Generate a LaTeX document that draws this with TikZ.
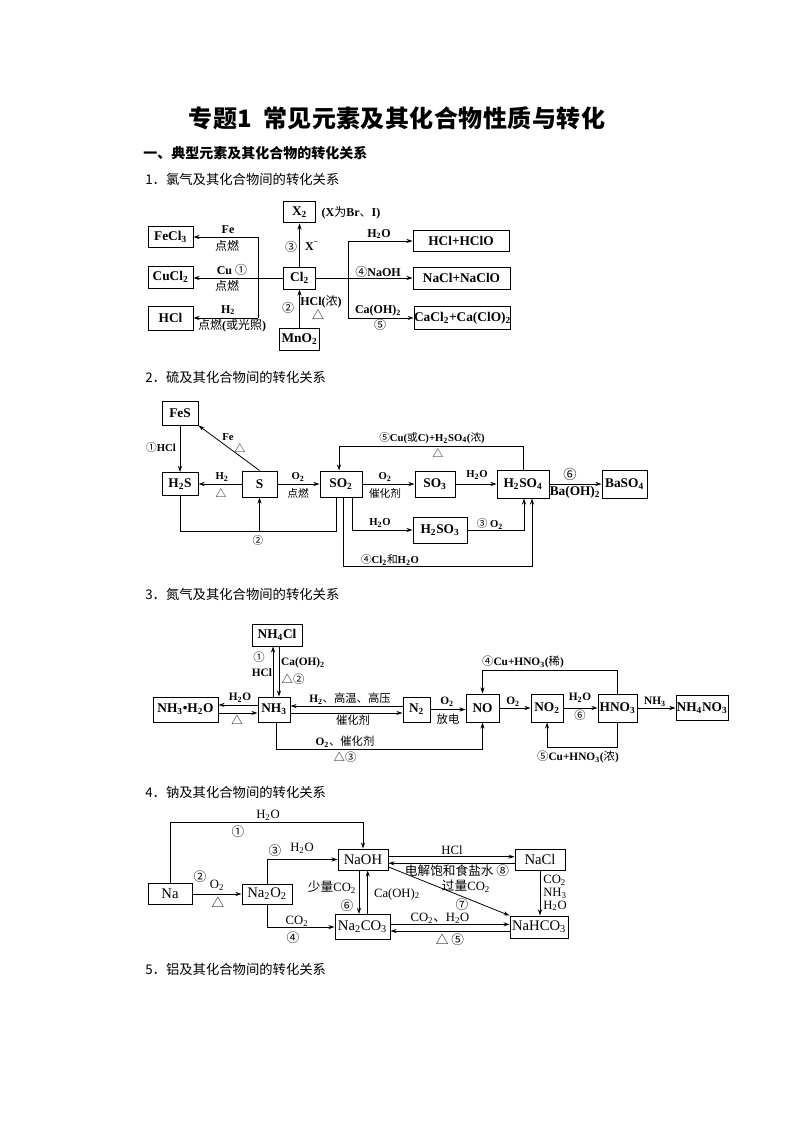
\documentclass[tikz,border=0pt]{standalone}
\usepackage{fontspec}
\setmainfont{Liberation Serif}
\newfontfamily\cjk{Noto Sans CJK SC}
\usetikzlibrary{arrows.meta}
\newcommand{\zh}[1]{{\cjk\mdseries #1}}
\newcommand{\dn}[1]{\textsubscript{#1}}
\newcommand{\mkbox}[7]{\node[#1, minimum width=#5*0.75pt, minimum height=#6*0.75pt] (#2) at (#3,#4) {#7};}
\tikzset{
  boxb/.style={draw, line width=0.75pt, inner sep=0pt, font=\bfseries\fontsize{10}{12}\selectfont},
  boxr/.style={draw, line width=0.75pt, inner sep=0pt, font=\fontsize{11}{13}\selectfont},
  arr/.style={-{Stealth[length=4.5pt,width=3pt]}, line width=0.6pt},
  ln/.style={line width=0.6pt},
  la/.style={inner sep=0pt, font=\bfseries\fontsize{9}{10}\selectfont},
  lb/.style={inner sep=0pt, font=\bfseries\fontsize{8}{9}\selectfont},
  lc/.style={inner sep=0pt, font=\bfseries\fontsize{8.5}{9.5}\selectfont},
  ld/.style={inner sep=0pt, font=\fontsize{9.5}{10}\selectfont},
  hd/.style={anchor=west, inner sep=0pt, font=\cjk\fontsize{10}{12}\selectfont},
}
\begin{document}
\begin{tikzpicture}[x=0.75pt,y=-0.75pt]
\fill[white] (0,0) rectangle (794,1123);
\useasboundingbox (0,0) rectangle (794,1123);

% ---------- titles ----------
\node[inner sep=0pt, font=\cjk\bfseries\fontsize{18}{20}\selectfont\addfontfeatures{LetterSpace=2}] (title) at (397,118) {专题1\hspace{0.45em}常见元素及其化合物性质与转化};
\node[hd, font=\cjk\bfseries\fontsize{10.5}{12}\selectfont] (h0) at (143,153) {一、典型元素及其化合物的转化关系};
\node[hd] (h1) at (145,179) {1．氯气及其化合物间的转化关系};
\node[hd] (h2) at (145,377) {2．硫及其化合物间的转化关系};
\node[hd] (h3) at (145,594) {3．氮气及其化合物间的转化关系};
\node[hd] (h4) at (145,792) {4．钠及其化合物间的转化关系};
\node[hd] (h5) at (145,969) {5．铝及其化合物间的转化关系};

% ---------- section 1 ----------
\mkbox{boxb}{fecl}{170.5}{237}{45}{21}{FeCl\dn{3}}
\mkbox{boxb}{cucl}{170.5}{277}{45}{22}{CuCl\dn{2}}
\mkbox{boxb}{hcl}{170.5}{318}{45}{24}{HCl}
\mkbox{boxb}{xx}{299.5}{212.5}{32}{21}{X\dn{2}}
\mkbox{boxb}{cl}{299.5}{278}{32}{22}{Cl\dn{2}}
\mkbox{boxb}{mno}{299.5}{339}{40}{22}{MnO\dn{2}}
\mkbox{boxb}{hclo}{461}{241}{96}{21}{HCl+HClO}
\mkbox{boxb}{naclo}{461.5}{278}{97}{22}{NaCl+NaClO}
\mkbox{boxb}{cacl}{462.5}{318}{96}{23}{CaCl\dn{2}+Ca(ClO)\dn{2}}

\coordinate (j1) at (258,237);
\coordinate (j3) at (258,318);
\draw[ln] (j1) -- (j3);
\draw[arr] (j1) -- (j1 -| fecl.east);
\draw[arr] (cl.west) -- (cl.west -| cucl.east);
\draw[arr] (j3) -- (j3 -| hcl.east);
\draw[arr] (cl.north) -- (xx.south);
\draw[arr] (mno.north) -- (cl.south);
\coordinate (k1) at (348,241);
\coordinate (k3) at (348,318);
\draw[ln] (k1) -- (k3);
\draw[arr] (cl.east) -- (cl.east -| naclo.west);
\draw[arr] (k1) -- (hclo.west);
\draw[arr] (k3) -- (cacl.west);

\node[la] (t1) at (228,230) {Fe};
\node[la] (t2) at (227,246) {\zh{点燃}};
\node[la] (t3) at (232,270) {Cu \zh{①}};
\node[la] (t4) at (227,286) {\zh{点燃}};
\node[la] (t5) at (228,310) {H\dn{2}};
\node[la] (t6) at (232,326) {\zh{点燃}(\zh{或光照})};
\node[la] (t7) at (291,247) {\zh{③}};
\node[la] (t8) at (312,246) {X\textsuperscript{−}};
\node[la] (t9) at (351,213) {(X\zh{为}Br\zh{、}I)};
\node[la] (t10) at (288,308) {\zh{②}};
\node[la] (t11) at (321,302) {HCl(\zh{浓})};
\node[la] (t12) at (318,315) {\zh{△}};
\node[la] (t13) at (379,234) {H\dn{2}O};
\node[la] (t14) at (378,272) {\zh{④}NaOH};
\node[la] (t15) at (378,311) {Ca(OH)\dn{2}};
\node[la] (t16) at (380,325) {\zh{⑤}};

% ---------- section 2 ----------
\mkbox{boxb}{fes}{180}{413}{36}{24}{FeS}
\mkbox{boxb}{hhs}{180}{484}{36}{23}{H\dn{2}S}
\mkbox{boxb}{ss}{259.5}{484}{35}{26}{S}
\mkbox{boxb}{soo}{341}{484}{42}{26}{SO\dn{2}}
\mkbox{boxb}{sooo}{435}{484}{40}{26}{SO\dn{3}}
\mkbox{boxb}{hso4}{523}{484}{52}{28}{H\dn{2}SO\dn{4}}
\mkbox{boxb}{baso}{624.5}{484}{45}{28}{BaSO\dn{4}}
\mkbox{boxb}{hso3}{440}{530}{54}{26}{H\dn{2}SO\dn{3}}

\draw[arr] (fes.south) -- (hhs.north);
\draw[arr] (ss.north) -- (fes.south east);
\draw[arr] (ss.west) -- (hhs.east);
\draw[arr] (ss.east) -- (soo.west);
\draw[arr] (soo.east) -- (sooo.west);
\draw[arr] (sooo.east) -- (hso4.west);
\draw[arr] (hso4.east) -- (baso.west);
\coordinate (p2) at (336,531);
\draw[ln] (hhs.south) |- (p2) -- (p2 |- soo.south);
\draw[arr] (ss.south |- p2) -- (ss.south);
\draw[arr] ([xshift=8.25pt]soo.south) |- (hso3.west);
\coordinate (p4) at (532,566);
\draw[arr] ([xshift=1.5pt]soo.south) |- (p4) -- (p4 |- hso4.south);
\draw[arr] (hso3.east) -| ([xshift=0.75pt]hso4.south);
\coordinate (p5) at (339,446);
\draw[arr] (hso4.north) |- (p5) -- (p5 |- soo.north);

\node[lb] (s1) at (161,447) {\zh{①}HCl};
\node[lb] (s2) at (228,437) {Fe};
\node[lb] (s3) at (240,448) {\zh{△}};
\node[lb] (s4) at (222,477) {H\dn{2}};
\node[lb] (s5) at (221,493) {\zh{△}};
\node[lb] (s6) at (298,477) {O\dn{2}};
\node[lb] (s7) at (298,493) {\zh{点燃}};
\node[lb] (s8) at (258,540) {\zh{②}};
\node[lb] (s9) at (385,477) {O\dn{2}};
\node[lb] (s10) at (385,493) {\zh{催化剂}};
\node[lb] (s11) at (477,475) {H\dn{2}O};
\node[la, font=\bfseries\fontsize{10}{11}\selectfont] (s12) at (570,474) {\zh{⑥}};
\node[la, font=\bfseries\fontsize{10}{11}\selectfont] (s13) at (575,492) {Ba(OH)\dn{2}};
\node[lb] (s14) at (380,523) {H\dn{2}O};
\node[lb] (s15) at (490,524) {\zh{③} O\dn{2}};
\node[lb] (s16) at (390,560) {\zh{④}Cl\dn{2}\zh{和}H\dn{2}O};
\node[lb] (s17) at (432,438) {\zh{⑤}Cu(\zh{或}C)+H\dn{2}SO\dn{4}(\zh{浓})};
\node[lb] (s18) at (438,453) {\zh{△}};

% ---------- section 3 ----------
\mkbox{boxb}{nhcl}{277}{635}{50}{22}{NH\dn{4}Cl}
\mkbox{boxb}{nh}{274}{709.5}{32}{25}{NH\dn{3}}
\mkbox{boxb}{nhw}{185.5}{709.5}{65}{25}{NH\dn{3}•H\dn{2}O}
\mkbox{boxb}{nn}{416.5}{709.5}{27}{25}{N\dn{2}}
\mkbox{boxb}{no}{482.5}{708}{33}{28}{NO}
\mkbox{boxb}{noo}{547}{708}{32}{28}{NO\dn{2}}
\mkbox{boxb}{hno}{617.5}{708}{39}{28}{HNO\dn{3}}
\mkbox{boxb}{nhno}{702}{708}{52}{25}{NH\dn{4}NO\dn{3}}

\coordinate (u1) at ([xshift=-0.75pt]nh.north);
\draw[arr] (u1) -- (u1 |- nhcl.south);
\coordinate (u2) at ([xshift=3.75pt]nh.north);
\draw[arr] (u2 |- nhcl.south) -- (u2);
\coordinate (v1) at ([yshift=3.4pt]nh.west);
\draw[arr] (v1) -- (v1 -| nhw.east);
\coordinate (v2) at ([yshift=-2.6pt]nhw.east);
\draw[arr] (v2) -- (v2 -| nh.west);
\coordinate (v3) at ([yshift=2.6pt]nn.west);
\draw[arr] (v3) -- (v3 -| nh.east);
\coordinate (v4) at ([yshift=-2.6pt]nh.east);
\draw[arr] (v4) -- (v4 -| nn.west);
\draw[arr] (nn.east) -- (nn.east -| no.west);
\coordinate (q6) at (482.5,749);
\draw[arr] ([xshift=1.5pt]nh.south) |- (q6) -- (no.south);
\draw[arr] (no.east) -- (noo.west);
\draw[arr] (noo.east) -- (hno.west);
\draw[arr] (hno.east) -- (hno.east -| nhno.west);
\coordinate (q7) at (482.5,670);
\draw[arr] (hno.north) |- (q7) -- (no.north);
\coordinate (q8) at (547,747);
\draw[arr] (hno.south) |- (q8) -- (noo.south);

\node[lc] (n1) at (259,657) {\zh{①}};
\node[lc] (n2) at (262,673) {HCl};
\node[lc] (n3) at (303,663) {Ca(OH)\dn{2}};
\node[lc] (n4) at (293,679) {\zh{△②}};
\node[lc] (n5) at (240,698) {H\dn{2}O};
\node[lc] (n6) at (237,720) {\zh{△}};
\node[lc] (n7) at (350,699) {H\dn{2}\zh{、高温、高压}};
\node[lc] (n8) at (353,720) {\zh{催化剂}};
\node[lc] (n9) at (447,702) {O\dn{2}};
\node[lc] (n10) at (448,719) {\zh{放电}};
\node[lc] (n11) at (345,742) {O\dn{2}\zh{、催化剂}};
\node[lc] (n12) at (345,757) {\zh{△③}};
\node[lc] (n13) at (513,702) {O\dn{2}};
\node[lc] (n14) at (580,698) {H\dn{2}O};
\node[lc] (n15) at (580,715) {\zh{⑥}};
\node[lc] (n16) at (655,702) {NH\dn{3}};
\node[lc] (n17) at (523,662) {\zh{④}Cu+HNO\dn{3}(\zh{稀})};
\node[lc] (n18) at (578,757) {\zh{⑤}Cu+HNO\dn{3}(\zh{浓})};

% ---------- section 4 ----------
\mkbox{boxr}{na}{170}{894}{44}{21}{Na}
\mkbox{boxr}{nao}{267}{894}{50}{20}{Na\dn{2}O\dn{2}}
\mkbox{boxr}{naoh}{363}{859.5}{50}{21}{NaOH}
\mkbox{boxr}{naco}{362.5}{927}{55}{25}{Na\dn{2}CO\dn{3}}
\mkbox{boxr}{nacl}{540}{859.5}{50}{21}{NaCl}
\mkbox{boxr}{nahco}{539}{927}{58}{22}{NaHCO\dn{3}}

\coordinate (r1) at (363,822);
\draw[arr] (na.north) |- (r1) -- (naoh.north);
\draw[arr] (na.east) -- (nao.west);
\draw[arr] (nao.north) |- (naoh.west);
\draw[arr] (nao.south) |- (naco.west);
\coordinate (r2) at ([xshift=-3pt]naoh.south);
\draw[arr] (r2) -- (r2 |- naco.north);
\coordinate (r3) at ([xshift=3.5pt]naoh.south);
\draw[arr] (r3 |- naco.north) -- (r3);
\coordinate (r4) at ([yshift=2.1pt]naoh.east);
\draw[arr] (r4) -- (r4 -| nacl.west);
\coordinate (r5) at ([yshift=-2.85pt]nacl.west);
\draw[arr] (r5) -- (r5 -| naoh.east);
\draw[arr] (nacl.south) -- (nacl.south |- nahco.north);
\coordinate (r6) at ([yshift=2pt]naco.east);
\draw[arr] (r6) -- (r6 -| nahco.west);
\coordinate (r7) at ([yshift=-3pt]nahco.west);
\draw[arr] (r7) -- (r7 -| naco.east);
\draw[arr] ([yshift=-5.6pt]naoh.east) -- (nahco.north west);

\node[ld] (m1) at (268,815) {H\dn{2}O};
\node[ld] (m2) at (238,832) {\zh{①}};
\node[ld] (m3) at (200,877) {\zh{②}};
\node[ld] (m4) at (217,885) {O\dn{2}};
\node[ld] (m5) at (218,902) {\zh{△}};
\node[ld] (m6) at (275,851) {\zh{③}};
\node[ld] (m7) at (302,848) {H\dn{2}O};
\node[ld] (m8) at (297,921) {CO\dn{2}};
\node[ld] (m9) at (293,938) {\zh{④}};
\node[ld] (m10) at (332,887) {\zh{少量}CO\dn{2}};
\node[ld] (m11) at (347,906) {\zh{⑥}};
\node[ld] (m12) at (397,894) {Ca(OH)\dn{2}};
\node[ld] (m13) at (452,850) {HCl};
\node[ld] (m14) at (457,871) {\zh{电解饱和食盐水 ⑧}};
\node[ld] (m15) at (466,886) {\zh{过量}CO\dn{2}};
\node[ld] (m16) at (462,905) {\zh{⑦}};
\node[ld, align=left, font=\fontsize{9.5}{9.5}\selectfont] (m17) at (555,893) {CO\dn{2}\\NH\dn{3}\\H\dn{2}O};
\node[ld] (m18) at (440,918) {CO\dn{2}\zh{、}H\dn{2}O};
\node[ld] (m19) at (450,940) {\zh{△ ⑤}};
\end{tikzpicture}
\end{document}
